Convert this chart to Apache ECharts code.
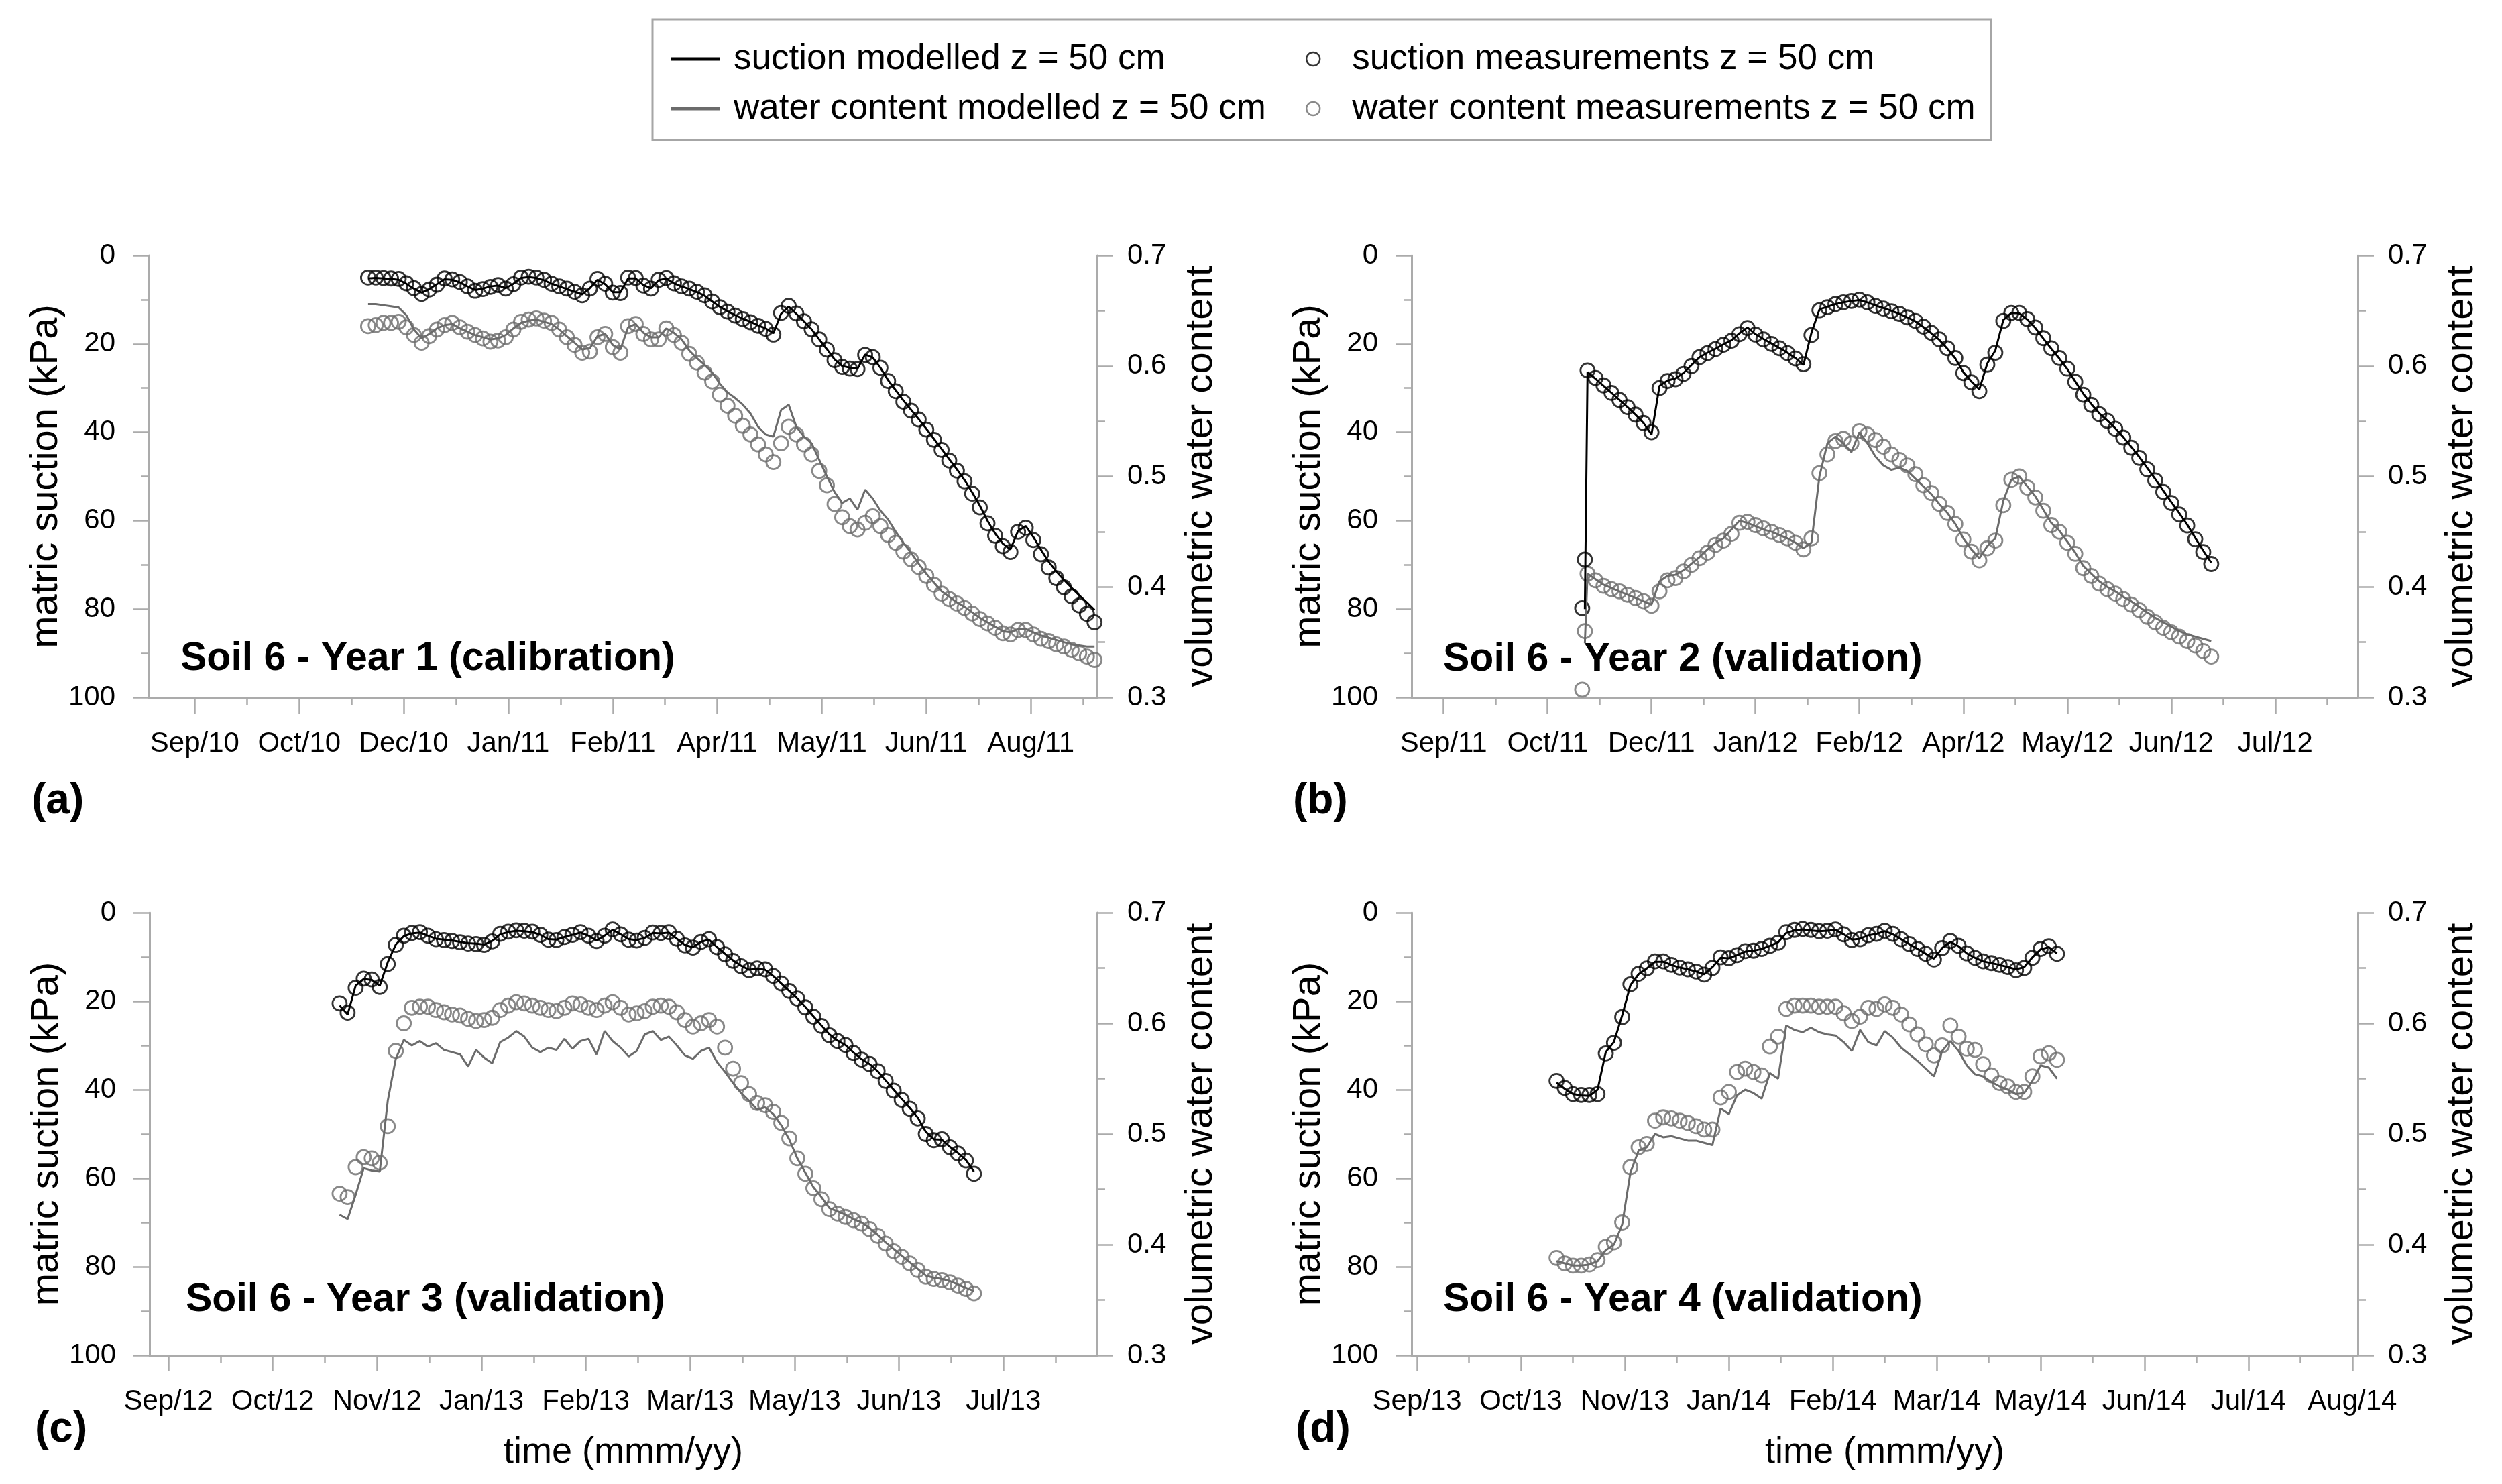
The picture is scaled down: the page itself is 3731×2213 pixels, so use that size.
<!DOCTYPE html>
<html>
<head>
<meta charset="utf-8">
<script src="https://cdn.jsdelivr.net/npm/echarts@6/dist/echarts.min.js"></script>
<style>
html,body{margin:0;padding:0;background:#fff;}
#chart{width:3731px;height:2213px;}
</style>
</head>
<body>
<div id="chart"></div>
<script>
// ---------------- DATA ----------------
const STEP = 3; // days between consecutive values of every series below

const seriesNames = ['suction modelled z = 50 cm', 'water content modelled z = 50 cm',
  'suction measurements z = 50 cm', 'water content measurements z = 50 cm'];
const panelTitles = ['Soil 6 - Year 1 (calibration)', 'Soil 6 - Year 2 (validation)',
  'Soil 6 - Year 3 (validation)', 'Soil 6 - Year 4 (validation)'];
const panelTags = ['(a)', '(b)', '(c)', '(d)'];

// x-axis ranges and tick label dates
const aRange = ['2010-08-26', '2011-09-02'];
const bRange = ['2011-09-08', '2012-08-28'];
const cRange = ['2012-09-04', '2013-08-24'];
const dRange = ['2013-09-13', '2014-08-25'];
const aTicks = ['2010-09-13','2010-10-24','2010-12-04','2011-01-14','2011-02-24','2011-04-06','2011-05-17','2011-06-27','2011-08-07'];
const bTicks = ['2011-09-20','2011-10-29','2011-12-07','2012-01-15','2012-02-23','2012-04-02','2012-05-11','2012-06-19','2012-07-28'];
const cTicks = ['2012-09-11','2012-10-20','2012-11-28','2013-01-06','2013-02-14','2013-03-25','2013-05-03','2013-06-11','2013-07-20'];
const dTicks = ['2013-09-15','2013-10-23','2013-11-30','2014-01-07','2014-02-14','2014-03-24','2014-05-01','2014-06-08','2014-07-16','2014-08-23'];

// first date of each series
const aStart = '2010-11-20';
const bStart = '2011-11-13';
const cStart = '2012-11-14';
const dStart = '2013-11-05';

// ---- Panel (a) ----
const aSucMeas = [
 5.0,5.0,5.1,5.2,5.3, 6.3,7.4,8.7,7.7,6.6, 5.2,5.4,6.0,7.0,8.0, 7.6,7.1,6.7,7.5,6.5,
 5.0,4.8,5.0,5.5,6.4, 7.0,7.5,8.2,9.0,7.5, 5.3,6.4,8.4,8.5,5.0, 5.1,6.8,7.5,5.5,5.1,
 6.3,7.0,7.5,8.2,9.0, 10.4,11.7,12.7,13.6,14.4, 15.1,15.9,16.6,17.9,13.0, 11.4,13.1,14.9,16.7,19.0,
 21.3,23.7,25.2,25.6,25.7, 22.5,23.0,25.4,28.4,30.7, 33.1,35.1,37.1,39.4,41.7, 44.0,46.4,48.7,51.1,53.9,
 57.0,60.6,63.4,65.8,67.1, 62.5,61.6,64.4,67.6,70.6, 73.0,75.1,77.1,79.2,81.1, 83.0];
const aSucMod = [
 5.2,5.1,5.2,5.3,5.5, 6.4,7.5,8.4,7.6,6.5, 5.4,5.5,6.1,7.0,7.8, 7.5,7.0,6.8,7.4,6.4,
 5.1,4.9,5.1,5.6,6.4, 7.0,7.6,8.2,8.8,7.4, 5.5,6.5,8.3,8.3,5.2, 5.2,6.7,7.4,5.6,5.2,
 6.3,7.0,7.6,8.3,9.1, 10.4,11.6,12.6,13.5,14.3, 15.0,15.8,16.5,17.6,13.2, 11.6,13.2,14.9,16.7,19.0,
 21.2,23.5,25.0,25.4,25.6, 22.4,23.1,25.4,28.2,30.5, 32.8,34.9,37.0,39.2,41.5, 43.8,46.1,48.4,50.8,53.6,
 56.6,60.0,62.9,65.2,66.5, 62.3,61.2,63.7,66.6,69.3, 71.5,73.4,75.2,76.9,78.5, 80.2];
const aWcMeas = [
 .636,.637,.639,.639,.640, .635,.628,.621,.627,.633, .637,.639,.635,.631,.628, .625,.622,.623,.626,.633,
 .640,.642,.643,.641,.639, .633,.626,.619,.612,.613, .626,.629,.617,.612,.636, .638,.629,.624,.624,.634,
 .628,.621,.611,.603,.594, .586,.574,.564,.555,.546, .538,.529,.520,.513,.530, .545,.538,.529,.520,.505,
 .492,.475,.463,.455,.452, .458,.464,.455,.447,.440, .432,.425,.418,.410,.402, .394,.389,.385,.381,.376,
 .371,.367,.363,.358,.357, .361,.361,.357,.353,.351, .348,.346,.343,.340,.337, .334];
const aWcMod = [
 .656,.656,.655,.654,.653, .646,.633,.625,.629,.634, .637,.638,.634,.631,.628, .626,.624,.625,.628,.634,
 .639,.641,.642,.640,.638, .633,.627,.621,.615,.616, .627,.629,.619,.615,.635, .638,.630,.626,.626,.634,
 .630,.624,.614,.607,.601, .594,.584,.576,.571,.565, .557,.545,.538,.536,.560, .565,.545,.536,.530,.515,
 .500,.486,.476,.480,.470, .488,.480,.469,.461,.450, .440,.431,.421,.412,.404, .396,.391,.386,.382,.377,
 .372,.368,.364,.360,.359, .362,.362,.359,.356,.354, .352,.350,.348,.347,.346, .346];

// ---- Panel (b) ----
const bSucMeasFirst = [['2011-11-11', 79.8], ['2011-11-12', 68.8]];
const bWcMeasFirst = [['2011-11-11', 0.307], ['2011-11-12', 0.360]];
const bSucModFirst = [['2011-11-12', 80.0]];
const bWcModFirst = [['2011-11-12', 0.349]];
const bSucMeas = [
 26.0,27.7,29.4,31.1,32.7, 34.3,36.0,37.9,40.0,30.0, 28.4,28.0,26.8,25.0,23.0, 22.1,21.2,20.2,19.3,17.8,
 16.4,17.9,19.0,20.0,21.0, 22.1,23.3,24.6,18.0,12.4, 11.7,11.0,10.6,10.3,10.0, 10.6,11.4,12.0,12.6,13.2,
 14.0,14.8,16.1,17.5,19.0, 21.0,23.2,26.6,28.7,30.7, 24.7,22.0,14.8,13.0,13.0, 14.4,16.3,18.7,21.0,23.2,
 25.6,28.6,31.5,33.8,35.9, 37.4,39.2,41.2,43.5,45.8, 48.4,50.9,53.5,56.0,58.6, 61.1,64.2,67.1,69.8];
const bSucMod = [
 26.4,27.9,29.5,31.1,32.7, 34.3,36.0,37.9,40.5,29.5, 28.3,27.8,26.6,24.8,23.0, 22.0,21.1,20.1,19.2,17.6,
 16.3,17.8,18.9,19.9,20.9, 22.0,23.2,24.8,17.5,12.2, 11.6,11.0,10.6,10.3,10.1, 10.6,11.3,11.9,12.5,13.2,
 14.0,14.9,16.2,17.6,19.1, 21.1,23.3,26.4,28.5,30.3, 24.4,21.5,14.6,13.0,13.1, 14.5,16.4,18.8,21.1,23.3,
 25.7,28.5,31.3,33.6,35.7, 37.3,39.1,41.1,43.3,45.6, 48.1,50.6,53.2,55.8,58.3, 60.9,63.9,66.8,69.5];
const bWcMeas = [
 .412,.406,.401,.398,.396, .393,.390,.387,.383,.396, .406,.408,.414,.420,.426, .431,.438,.442,.448,.458,
 .459,.456,.453,.450,.447, .444,.440,.434,.444,.503, .520,.532,.534,.530,.541, .538,.533,.527,.520,.515,
 .510,.502,.492,.485,.475, .467,.457,.443,.432,.424, .435,.442,.474,.497,.500, .490,.481,.469,.456,.450,
 .440,.430,.417,.410,.403, .398,.394,.389,.384,.379, .373,.368,.363,.359,.355, .351,.347,.342,.337];
const bWcMod = [
 .412,.407,.402,.399,.396, .393,.390,.387,.384,.405, .410,.411,.415,.421,.427, .434,.440,.444,.452,.460,
 .458,.455,.452,.450,.447, .444,.440,.435,.440,.500, .530,.536,.530,.522,.540, .530,.518,.510,.506,.508,
 .505,.498,.491,.484,.475, .467,.457,.444,.434,.426, .437,.444,.478,.497,.500, .491,.482,.470,.458,.451,
 .441,.431,.419,.412,.405, .400,.396,.391,.387,.382, .377,.372,.368,.364,.360, .357,.355,.353,.351];

// ---- Panel (c) ----
const cSucMeas = [
 20.5,22.6,17.0,14.9,15.1, 16.8,11.6,7.3,5.2,4.6, 4.4,5.2,6.0,6.2,6.4, 6.7,7.0,7.1,7.3,6.5,
 4.8,4.3,4.0,4.1,4.3, 5.0,6.1,6.2,5.5,5.0, 4.4,5.2,6.4,5.2,3.8, 4.9,6.1,6.3,5.7,4.5,
 4.6,4.4,5.9,7.4,7.9, 6.6,6.0,7.8,9.4,10.9, 12.1,13.0,12.6,12.8,14.3, 16.0,17.7,19.4,21.4,23.5,
 25.6,27.7,29.0,29.9,31.7, 33.2,34.2,35.8,38.0,40.2, 42.3,44.3,46.5,50.0,51.4, 51.2,53.0,54.4,56.0,59.0];
const cSucMod = [
 21.0,23.0,16.5,15.0,15.2, 16.5,11.2,7.2,5.3,4.7, 4.5,5.2,5.9,6.1,6.3, 6.6,6.9,7.0,7.2,6.4,
 4.9,4.4,4.1,4.2,4.4, 5.0,6.0,6.1,5.5,5.0, 4.5,5.2,6.3,5.2,3.9, 4.9,6.0,6.2,5.7,4.6,
 4.7,4.5,5.9,7.3,7.8, 6.6,6.1,7.8,9.3,10.8, 12.0,12.9,12.6,12.9,14.3, 16.0,17.7,19.4,21.3,23.4,
 25.5,27.5,28.9,29.9,31.6, 33.1,34.2,35.8,37.9,40.0, 42.1,44.1,46.3,49.5,51.2, 51.3,52.9,54.3,55.9,58.5];
const cWcMeas = [
 .446,.443,.470,.479,.478, .474,.507,.575,.600,.614, .615,.615,.612,.610,.608, .607,.604,.602,.603,.605,
 .612,.616,.619,.618,.616, .614,.612,.611,.614,.618, .617,.614,.612,.616,.619, .614,.608,.609,.611,.615,
 .616,.615,.610,.603,.597, .600,.603,.597,.578,.559, .546,.536,.528,.526,.520, .510,.496,.478,.464,.451,
 .441,.432,.428,.425,.422, .419,.414,.408,.401,.394, .389,.383,.377,.371,.369, .368,.366,.363,.360,.356];
const cWcMod = [
 .427,.423,.445,.469,.467, .466,.530,.568,.585,.580, .584,.579,.582,.576,.574, .572,.561,.576,.569,.564,
 .583,.587,.593,.588,.578, .574,.578,.576,.586,.577, .584,.586,.572,.593,.584, .578,.570,.575,.590,.593,
 .585,.588,.580,.571,.568, .575,.578,.565,.556,.546, .537,.530,.522,.524,.518, .508,.495,.478,.465,.452,
 .443,.433,.430,.427,.423, .420,.415,.409,.402,.396, .390,.384,.378,.372,.370, .369,.367,.364,.361,.358];

// ---- Panel (d) ----
const dSucMeas = [
 38.0,39.6,41.0,41.2,41.2, 41.0,31.8,29.4,23.6,16.2, 13.8,12.6,11.0,11.0,11.8, 12.4,12.8,13.3,14.0,12.5,
 10.1,10.3,9.6,8.7,8.6, 8.2,7.5,6.8,4.4,3.9, 3.7,3.9,4.2,4.1,3.8, 4.9,6.2,6.0,5.1,4.8,
 4.1,4.8,6.0,7.1,8.2, 9.3,10.6,8.0,6.4,7.5, 9.2,10.2,11.0,11.4,11.8, 12.3,13.0,12.5,10.2,8.2, 7.6,9.3];
const dSucMod = [
 38.4,39.8,41.0,41.3,41.4, 40.0,31.5,29.2,23.2,16.4, 13.9,12.6,11.1,11.1,11.8, 12.4,12.8,13.3,13.9,12.3,
 10.2,10.3,9.6,8.8,8.6, 8.2,7.5,6.7,4.6,4.0, 3.8,4.0,4.2,4.1,3.9, 4.9,6.1,5.9,5.1,4.8,
 4.2,4.9,6.0,7.1,8.2, 9.3,10.4,8.0,6.6,7.6, 9.2,10.2,11.0,11.4,11.8, 12.3,12.8,12.3,10.1,8.3, 7.8,9.2];
const dWcMeas = [
 .388,.383,.381,.381,.382, .386,.398,.402,.420,.470, .488,.491,.512,.515,.514, .512,.510,.507,.504,.504,
 .533,.538,.556,.559,.556, .553,.579,.588,.613,.616, .616,.616,.615,.615,.615, .609,.602,.606,.614,.613,
 .617,.614,.608,.599,.590, .581,.571,.580,.598,.588, .577,.576,.563,.553,.546, .543,.538,.538,.552,.570, .573,.567];
const dWcMod = [
 .385,.383,.381,.381,.382, .385,.395,.400,.418,.465, .485,.488,.500,.497,.498, .496,.494,.494,.492,.490,
 .523,.518,.535,.540,.537, .532,.555,.550,.598,.594, .592,.596,.592,.590,.589, .583,.575,.594,.583,.580,
 .593,.587,.578,.572,.566, .559,.552,.575,.584,.575, .562,.554,.552,.547,.543, .540,.536,.537,.548,.562, .560,.550];

// ---------------- HELPERS ----------------
const FONT = '"Liberation Sans", Arial, Helvetica, sans-serif';
const MONTHS = ['Jan','Feb','Mar','Apr','May','Jun','Jul','Aug','Sep','Oct','Nov','Dec'];
const AXC = '#ABABAB';
const GRAY = '#6B6B6B';
function dayNum(s) { const p = s.split('-').map(Number); return Date.UTC(p[0], p[1] - 1, p[2]) / 86400000; }
function fmtDay(v) {
  const dt = new Date(Math.round(v) * 86400000);
  return MONTHS[dt.getUTCMonth()] + '/' + String(dt.getUTCFullYear() % 100).padStart(2, '0');
}
function build(start, values, first) {
  const s = dayNum(start);
  const out = (first || []).map(p => [dayNum(p[0]), p[1]]);
  values.forEach((v, i) => out.push([s + i * STEP, v]));
  return out;
}

const panels = [
  {range: aRange, ticks: aTicks, start: aStart, sm: aSucMeas, sd: aSucMod, wm: aWcMeas, wd: aWcMod},
  {range: bRange, ticks: bTicks, start: bStart, sm: bSucMeas, sd: bSucMod, wm: bWcMeas, wd: bWcMod,
   smF: bSucMeasFirst, sdF: bSucModFirst, wmF: bWcMeasFirst, wdF: bWcModFirst},
  {range: cRange, ticks: cTicks, start: cStart, sm: cSucMeas, sd: cSucMod, wm: cWcMeas, wd: cWcMod},
  {range: dRange, ticks: dTicks, start: dStart, sm: dSucMeas, sd: dSucMod, wm: dWcMeas, wd: dWcMod}
];

// layout (pixels)
const layout = [
  {left: 222, top: 381, width: 1414, height: 659, title: [269, 983], tag: [47, 1195], xName: false},
  {left: 2105, top: 381, width: 1411, height: 659, title: [2152, 984], tag: [1928, 1195], xName: false},
  {left: 223, top: 1361, width: 1413, height: 660, title: [277, 1939], tag: [52, 2132], xName: true},
  {left: 2105, top: 1361, width: 1411, height: 660, title: [2152, 1939], tag: [1932, 2132], xName: true}
];

const SYM = 21, SYMW = 2.8;
const grids = [], xAxes = [], yAxes = [], series = [], graphics = [];
const tickLine = {color: AXC, width: 2.5};
panels.forEach((p, i) => {
  const L = layout[i];
  grids.push({left: L.left, top: L.top, width: L.width, height: L.height, containLabel: false});
  const ticks = p.ticks.map(dayNum);
  const half = (ticks[1] - ticks[0]) / 2;
  const mids = ticks.map(t => t + half).filter(t => t < dayNum(p.range[1]));
  const xmin = dayNum(p.range[0]), xmax = dayNum(p.range[1]);
  xAxes.push({
    gridIndex: i, type: 'value', position: 'bottom', min: xmin, max: xmax,
    axisLine: {show: true, onZero: false, lineStyle: {color: AXC, width: 3}},
    axisTick: {show: true, customValues: ticks, length: 24, lineStyle: tickLine},
    axisLabel: {customValues: ticks, formatter: fmtDay, fontSize: 42, color: '#000', margin: 48, fontFamily: FONT},
    splitLine: {show: false},
    name: L.xName ? 'time (mmm/yy)' : '', nameLocation: 'middle', nameGap: 118,
    nameTextStyle: {fontSize: 54, color: '#000', fontFamily: FONT}
  });
  xAxes.push({
    gridIndex: i, type: 'value', position: 'bottom', min: xmin, max: xmax,
    axisLine: {show: false, onZero: false},
    axisTick: {show: true, customValues: mids, length: 12, lineStyle: tickLine},
    axisLabel: {show: false}, splitLine: {show: false}
  });
  yAxes.push({
    gridIndex: i, type: 'value', position: 'left', inverse: true, min: 0, max: 100, interval: 20,
    axisLine: {show: true, onZero: false, lineStyle: {color: AXC, width: 3}},
    axisTick: {show: true, length: 24, lineStyle: tickLine},
    minorTick: {show: true, splitNumber: 2, length: 12, lineStyle: tickLine},
    axisLabel: {fontSize: 42, color: '#000', margin: 50, fontFamily: FONT},
    splitLine: {show: false}, minorSplitLine: {show: false},
    name: 'matric suction (kPa)', nameLocation: 'middle', nameRotate: 90, nameGap: 118,
    nameTextStyle: {fontSize: 58, color: '#000', fontFamily: FONT}
  });
  yAxes.push({
    gridIndex: i, type: 'value', position: 'right', min: 0.3, max: 0.7, interval: 0.1,
    axisLine: {show: true, onZero: false, lineStyle: {color: AXC, width: 3}},
    axisTick: {show: true, length: 24, lineStyle: tickLine},
    minorTick: {show: true, splitNumber: 2, length: 12, lineStyle: tickLine},
    axisLabel: {fontSize: 42, color: '#000', margin: 45, fontFamily: FONT, formatter: v => v.toFixed(1)},
    splitLine: {show: false}, minorSplitLine: {show: false},
    name: 'volumetric water content', nameLocation: 'middle', nameRotate: 90, nameGap: 126,
    nameTextStyle: {fontSize: 58, color: '#000', fontFamily: FONT}
  });
  const xi = 2 * i, yl = 2 * i, yr = 2 * i + 1;
  series.push({
    type: 'scatter', name: seriesNames[3], xAxisIndex: xi, yAxisIndex: yr,
    data: build(p.start, p.wm, p.wmF), symbol: 'circle', symbolSize: SYM,
    itemStyle: {color: 'rgba(0,0,0,0)', borderColor: GRAY, borderWidth: SYMW}, z: 2, silent: true
  });
  series.push({
    type: 'scatter', name: seriesNames[2], xAxisIndex: xi, yAxisIndex: yl,
    data: build(p.start, p.sm, p.smF), symbol: 'circle', symbolSize: SYM,
    itemStyle: {color: 'rgba(0,0,0,0)', borderColor: '#000', borderWidth: SYMW}, z: 2, silent: true
  });
  series.push({
    type: 'line', name: seriesNames[1], xAxisIndex: xi, yAxisIndex: yr,
    data: build(p.start, p.wd, p.wdF), showSymbol: false, symbol: 'none',
    lineStyle: {color: GRAY, width: 3}, itemStyle: {color: GRAY}, z: 3, silent: true
  });
  series.push({
    type: 'line', name: seriesNames[0], xAxisIndex: xi, yAxisIndex: yl,
    data: build(p.start, p.sd, p.sdF), showSymbol: false, symbol: 'none',
    lineStyle: {color: '#000', width: 3}, itemStyle: {color: '#000'}, z: 3, silent: true
  });
  graphics.push({
    type: 'text', x: L.title[0], y: L.title[1],
    style: {text: panelTitles[i], fill: '#000', fontSize: 59, fontWeight: 'bold', fontFamily: FONT,
            align: 'left', verticalAlign: 'middle'}
  });
  graphics.push({
    type: 'text', x: L.tag[0], y: L.tag[1],
    style: {text: panelTags[i], fill: '#000', fontSize: 64, fontWeight: 'bold', fontFamily: FONT,
            align: 'left', verticalAlign: 'middle'}
  });
});

graphics.push({
  type: 'rect', shape: {x: 973, y: 29, width: 1996, height: 180},
  style: {fill: 'none', stroke: '#A6A6A6', lineWidth: 3}, z: 0
});

const legendText = {fontSize: 53, color: '#000', fontFamily: FONT, lineHeight: 60};
const option = {
  animation: false,
  backgroundColor: '#fff',
  grid: grids, xAxis: xAxes, yAxis: yAxes, series: series,
  graphic: graphics,
  legend: [
    {
      orient: 'vertical', left: 996, top: 53, itemGap: 14, selectedMode: false,
      itemWidth: 73, itemHeight: 5,
      textStyle: Object.assign({}, legendText, {padding: [0, 0, 0, 15]}),
      data: [
        {name: seriesNames[0], icon: 'rect', itemStyle: {color: '#000'}},
        {name: seriesNames[1], icon: 'rect', itemStyle: {color: GRAY}}
      ]
    },
    {
      orient: 'vertical', left: 1942, top: 53, itemGap: 14, selectedMode: false,
      itemWidth: 20, itemHeight: 20,
      textStyle: Object.assign({}, legendText, {padding: [0, 0, 0, 43]}),
      data: [
        {name: seriesNames[2], icon: 'circle', itemStyle: {color: 'rgba(0,0,0,0)', borderColor: '#000', borderWidth: 2.4}},
        {name: seriesNames[3], icon: 'circle', itemStyle: {color: 'rgba(0,0,0,0)', borderColor: GRAY, borderWidth: 2.4}}
      ]
    }
  ]
};

const chart = echarts.init(document.getElementById('chart'), null, {renderer: 'canvas', width: 3731, height: 2213});
chart.setOption(option);
</script>
</body>
</html>
